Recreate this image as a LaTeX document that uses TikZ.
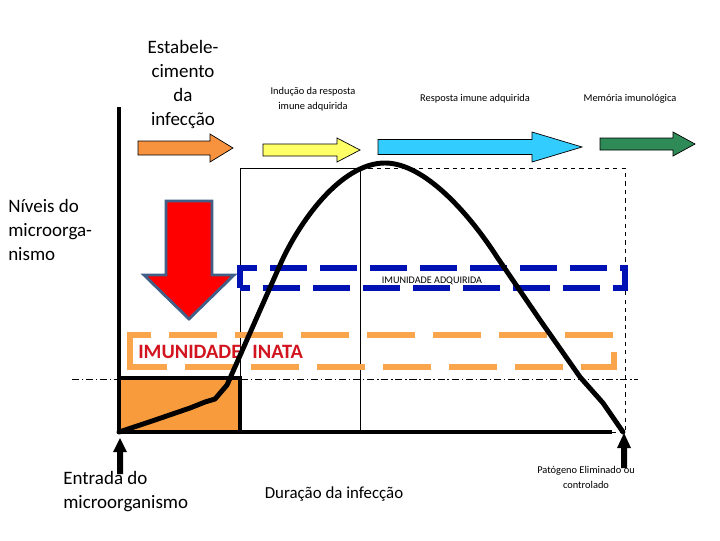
\documentclass[tikz,border=0pt]{standalone}
\usepackage{fontspec}
\setmainfont{Carlito}
\usepackage{xcolor}
\usetikzlibrary{calc}

\definecolor{estabOrange}{RGB}{247,146,62}
\definecolor{inducYellow}{RGB}{255,255,102}
\definecolor{respBlue}{RGB}{51,204,255}
\definecolor{memGreen}{RGB}{46,139,87}
\definecolor{boxOrange}{RGB}{248,155,60}
\definecolor{inataOrange}{RGB}{250,165,75}
\definecolor{adqBlue}{RGB}{0,18,180}
\definecolor{inataRed}{RGB}{210,20,30}
\definecolor{slateEdge}{RGB}{65,95,135}

\tikzset{
  axisline/.style={line width=3.5pt},
  thinline/.style={line width=0.7pt},
  infcurve/.style={line width=3.5pt, line join=round, line cap=round},
  bigtxt/.style={font=\fontsize{13.5}{17}\selectfont, inner sep=0pt, align=center},
  smalltxt/.style={font=\fontsize{7.4}{10}\selectfont, inner sep=0pt, align=center},
  phasearrow/.style={draw=black, line width=0.5pt},
}

\begin{document}
\begin{tikzpicture}[x=0.025cm,y=-0.025cm]
\useasboundingbox (0,0) rectangle (720,540);

% fases da infeccao
\coordinate (estab) at (183,40);
\node[bigtxt, anchor=north] (estabtxt) at (estab) {Estabele-\\cimento\\da\\infecção};

\coordinate (induc) at (313,109);
\node[smalltxt, anchor=base] (inductxt) at (induc) {Indução da resposta\\imune adquirida};

\coordinate (resp) at (475,101);
\node[smalltxt, anchor=base] (resptxt) at (resp) {Resposta imune adquirida};

\coordinate (mem) at (630,101);
\node[smalltxt, anchor=base] (memtxt) at (mem) {Memória imunológica};

\draw[phasearrow, fill=estabOrange] (138,141) -- (210,141) -- (210,134) -- (233,148) -- (210,162) -- (210,155) -- (138,155) -- cycle;
\draw[phasearrow, fill=inducYellow] (263,144) -- (337,144) -- (337,138) -- (360,150) -- (337,162) -- (337,156) -- (263,156) -- cycle;
\draw[phasearrow, fill=respBlue] (378,139.5) -- (532,139.5) -- (532,132) -- (582,147) -- (532,162) -- (532,154.5) -- (378,154.5) -- cycle;
\draw[phasearrow, fill=memGreen] (600,138) -- (673,138) -- (673,132) -- (695,144) -- (673,156) -- (673,150) -- (600,150) -- cycle;

% caixa e linhas de referencia
\draw[thinline] (240,432) -- (240,168) -- (360,168);
\draw[thinline] (360,168) -- (360,432);
\draw[thinline, dashed] (360,168) -- (625,168) -- (625,432);
\draw[thinline, dashed] (612,432) -- (625,432);
\draw[axisline, fill=boxOrange] (119,378) rectangle (240,432);
\draw[thinline, dash pattern=on 5pt off 2pt on 1pt off 2pt] (72,379) -- (638,379);

% niveis
\coordinate (niveis) at (8,260);
\node[bigtxt, anchor=base west, align=left] (nivtxt) at (niveis) {Níveis do\\microorga-\\nismo};

\draw[line width=2pt, draw=slateEdge, fill=red] (166,201) -- (212,201) -- (212,275) -- (234,275) -- (189,319) -- (144,275) -- (166,275) -- cycle;

% imunidade
\draw[adqBlue, line width=3.6pt, dash pattern=on 0.925cm off 0.325cm] (240,288) -- (240,268) -- (625,268) -- (625,288) -- cycle;
\coordinate (adq) at (432,283);
\node[font=\fontsize{7.2}{8}\selectfont, inner sep=0pt, anchor=base] (adqtxt) at (adq) {IMUNIDADE ADQUIRIDA};

\draw[inataOrange, line width=4.2pt, dash pattern=on 1.2cm off 0.45cm] (130,362) -- (130,335) -- (614,335) -- (614,367) -- (130,367) -- cycle;
\coordinate (inata) at (138,358);
\node[font=\bfseries\fontsize{14.5}{17}\selectfont, text=inataRed, inner sep=0pt, anchor=base west] (inatatxt) at (inata) {IMUNIDADE\hspace{0.55em}INATA};

% eixos e curva
\draw[axisline] (119,107) -- (119,432) -- (612,432);
\draw[infcurve] (119,432) -- (155,420) -- (190,408) -- (205,402) -- (215,399) -- (227,385) -- (280,265)
  .. controls (298,224) and (340,163) .. (385,163)
  .. controls (425,163) and (470,215) .. (497,257)
  -- (540,320) -- (580,377) -- (603,403) -- (623,432);

% setas inferiores
\fill (120,438) -- (127,452) -- (123,452) -- (123,474) -- (117,474) -- (117,452) -- (113,452) -- cycle;
\fill (624,433) -- (631,448) -- (627,448) -- (627,468) -- (621,468) -- (621,448) -- (617,448) -- cycle;

\coordinate (entrada) at (63,508);
\node[bigtxt, anchor=base west, align=left] (entradatxt) at (entrada) {Entrada do\\microorganismo};

\coordinate (duracao) at (334,498);
\node[font=\fontsize{12}{14}\selectfont, inner sep=0pt, anchor=base] (duracaotxt) at (duracao) {Duração da infecção};

\coordinate (elim) at (586,488);
\node[smalltxt, anchor=base] (elimtxt) at (elim) {Patógeno Eliminado ou\\controlado};

\end{tikzpicture}
\end{document}
